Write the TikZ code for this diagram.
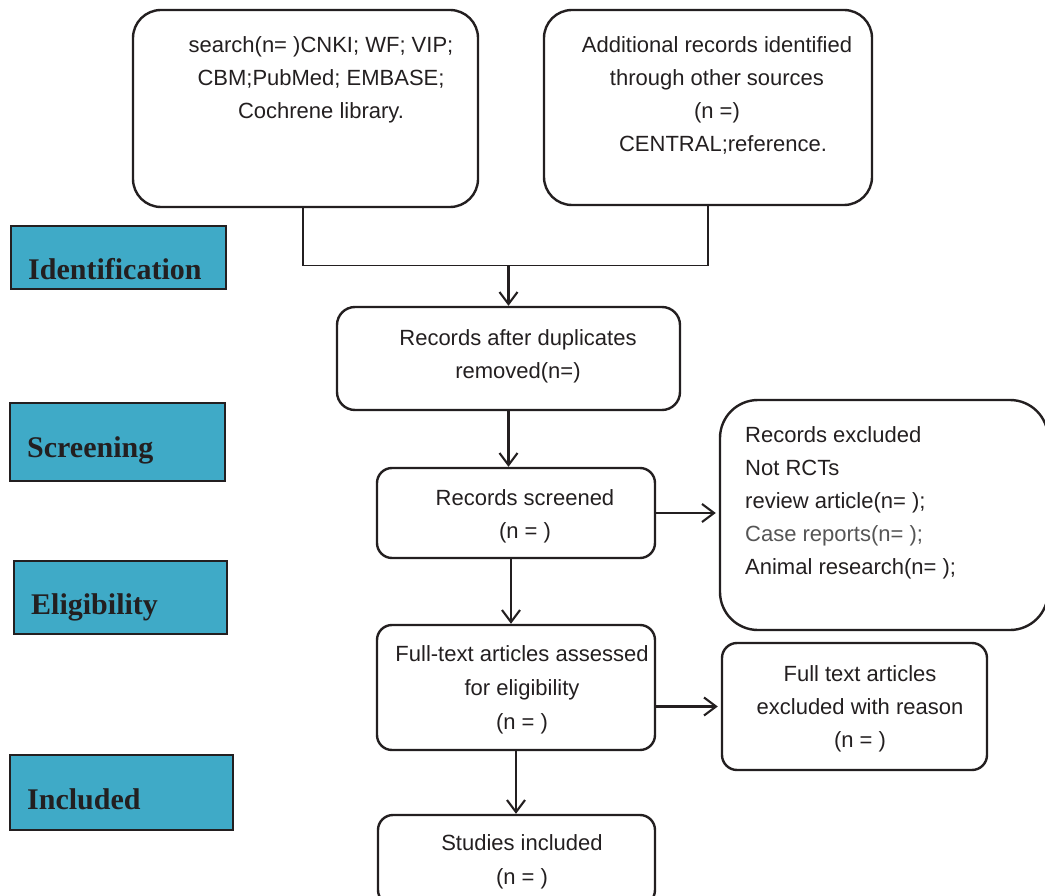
\documentclass[tikz,border=0pt]{standalone}
\usepackage{fontspec}
\setmainfont{Liberation Sans}
\newfontfamily\labelfont{Liberation Serif}
\usetikzlibrary{arrows.meta,calc}
\definecolor{ink}{RGB}{35,31,32}
\definecolor{phaseblue}{RGB}{63,170,199}
\definecolor{softgray}{RGB}{85,85,85}
\begin{document}
\begin{tikzpicture}[x=1pt,y=-1pt,
  box/.style={draw=ink, line width=2.4pt, rounded corners=#1, inner sep=0pt},
  box/.default=16pt,
  phase/.style={draw=ink, line width=1.6pt, fill=phaseblue, inner sep=0pt},
  txt/.style={font=\fontsize{22}{33}\selectfont, text=ink, inner sep=0pt, align=center, anchor=north},
  lab/.style={font=\labelfont\bfseries\fontsize{30}{36}\selectfont, text=ink, inner sep=0pt, anchor=base west},
  arr/.style={draw=ink, line width=2.1pt, -{Straight Barb[length=12pt,width=18pt]}},
  link/.style={draw=ink, line width=1.2pt}]
\useasboundingbox (0,0) rectangle (1045,896);
% phase labels
\node[phase, minimum width=215pt, minimum height=63pt] (p1) at (118.5,257.5) {};
\node[phase, minimum width=215pt, minimum height=78pt] (p2) at (117.5,442) {};
\node[phase, minimum width=213pt, minimum height=73pt] (p3) at (120.5,597.5) {};
\node[phase, minimum width=223pt, minimum height=75pt] (p4) at (121.5,792.5) {};
\node[lab] (l1) at (28,280) {Identification};
\node[lab] (l2) at (27,457) {Screening};
\node[lab] (l3) at (31,614) {Eligibility};
\node[lab] (l4) at (27,809) {Included};
% boxes
\node[box=28pt, minimum width=345pt, minimum height=197pt] (A) at (305.5,108.5) {};
\node[box=28pt, minimum width=328pt, minimum height=195pt] (B) at (708,107.5) {};
\node[box=18pt, minimum width=343pt, minimum height=103pt] (C) at (508.5,358.5) {};
\node[box=15pt, minimum width=278pt, minimum height=90pt] (D) at (516,513) {};
\node[box=38pt, minimum width=328pt, minimum height=230pt] (E) at (884,515) {};
\node[box=15pt, minimum width=278pt, minimum height=125pt] (F) at (516,687.5) {};
\node[box=15pt, minimum width=265pt, minimum height=127pt] (G) at (854.5,706.5) {};
\node[box=15pt, minimum width=277pt, minimum height=90pt] (H) at (516.5,860) {};
% texts
\node[txt] (tA) at (321,28.9) {\strut search(n= )CNKI; WF; VIP;\\CBM;PubMed; EMBASE;\\Cochrene library.};
\node[txt] (tB) at (717,28.9) {\strut Additional records identified\\through other sources\\(n =)\\\hspace*{12pt}CENTRAL;reference.};
\node[txt] (tC) at (518,321.9) {\strut Records after duplicates\\removed(n=)};
\node[txt] (tD) at (525,481.9) {\strut Records screened\\(n = )};
\node[txt, anchor=north west, align=left] (tE) at (745,418.9) {\strut Records excluded\\Not RCTs\\review article(n= );\\\textcolor{softgray}{Case reports(n= );}\\Animal research(n= );};
\node[txt, font=\fontsize{22}{34}\selectfont] (tF) at (522,637.2) {\strut Full-text articles assessed\\for eligibility\\(n = )};
\node[txt] (tG) at (860,657.9) {\strut Full text articles\\excluded with reason\\(n = )};
\node[txt, font=\fontsize{22}{34}\selectfont] (tH) at (522,826.2) {\strut Studies included\\(n = )};
% connectors
\coordinate (merge) at ($(C.north)+(0,-40)$);
\coordinate (aout) at ($(A.south)+(-2.5,0)$);
\draw[link] (aout) |- (merge) -| (B.south);
\draw[arr] (merge) -- (C.north);
\draw[arr] (C.south) -- (C.south |- D.north);
\coordinate (ds) at ($(D.south)+(-5,0)$);
\draw[arr] (ds) -- (ds |- F.north);
\draw[arr] (F.south) -- (F.south |- H.north);
\draw[arr, shorten >=3pt] (D.east) -- (D.east -| E.west);
\draw[arr, shorten >=3pt] (G.west -| F.east) -- (G.west);
\end{tikzpicture}
\end{document}
